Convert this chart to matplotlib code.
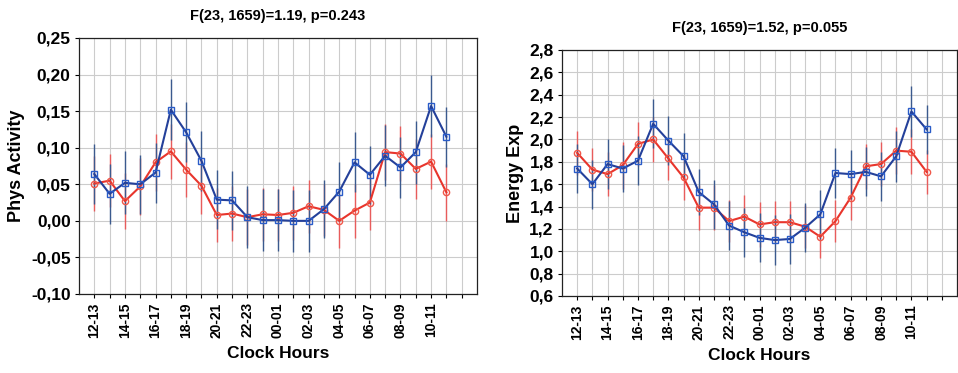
import matplotlib
matplotlib.use("Agg")
import matplotlib.pyplot as plt
import numpy as np

plt.rcParams['font.family'] = ['Liberation Sans', 'DejaVu Sans']
plt.rcParams['font.weight'] = 'bold'

hours = ['12-13', '13-14', '14-15', '15-16', '16-17', '17-18', '18-19', '19-20',
         '20-21', '21-22', '22-23', '23-00', '00-01', '01-02', '02-03', '03-04',
         '04-05', '05-06', '06-07', '07-08', '08-09', '09-10', '10-11', '11-12']

# Phys Activity
pa_blue = [0.064, 0.037, 0.052, 0.050, 0.066, 0.152, 0.121, 0.082, 0.029, 0.028, 0.005, 0.001,
           0.001, 0.000, 0.000, 0.016, 0.040, 0.080, 0.063, 0.089, 0.073, 0.094, 0.157, 0.115]
pa_blue_err = [0.041, 0.041, 0.043, 0.040, 0.041, 0.042, 0.041, 0.041, 0.040, 0.040, 0.042, 0.042,
               0.042, 0.042, 0.042, 0.040, 0.040, 0.041, 0.040, 0.042, 0.042, 0.043, 0.042, 0.041]
pa_red = [0.051, 0.055, 0.027, 0.047, 0.080, 0.095, 0.070, 0.048, 0.008, 0.010, 0.005, 0.009,
          0.008, 0.011, 0.020, 0.015, 0.000, 0.014, 0.025, 0.094, 0.092, 0.071, 0.081, 0.039]
pa_red_err = [0.037, 0.036, 0.038, 0.039, 0.039, 0.038, 0.038, 0.038, 0.037, 0.037, 0.038, 0.036,
              0.036, 0.037, 0.036, 0.036, 0.037, 0.037, 0.038, 0.038, 0.038, 0.041, 0.038, 0.039]

# Energy Exp
ee_blue = [1.74, 1.60, 1.78, 1.74, 1.81, 2.14, 1.99, 1.85, 1.53, 1.42, 1.23, 1.17,
           1.12, 1.10, 1.11, 1.21, 1.33, 1.70, 1.69, 1.71, 1.67, 1.85, 2.25, 2.09]
ee_blue_err = [0.22, 0.22, 0.22, 0.21, 0.22, 0.22, 0.22, 0.21, 0.21, 0.22, 0.22, 0.22,
               0.22, 0.22, 0.22, 0.22, 0.22, 0.22, 0.22, 0.22, 0.22, 0.23, 0.23, 0.22]
ee_red = [1.88, 1.73, 1.69, 1.77, 1.96, 2.00, 1.83, 1.66, 1.39, 1.39, 1.27, 1.31,
          1.24, 1.26, 1.26, 1.22, 1.13, 1.27, 1.48, 1.76, 1.78, 1.90, 1.89, 1.71]
ee_red_err = [0.20, 0.19, 0.20, 0.21, 0.20, 0.20, 0.19, 0.20, 0.20, 0.20, 0.19, 0.19,
              0.20, 0.19, 0.19, 0.19, 0.19, 0.19, 0.20, 0.20, 0.20, 0.21, 0.20, 0.20]

BLUE_LINE = '#24409a'
BLUE_MK = '#2a5cc8'
BLUE_ERR = '#3b5a8e'
RED_LINE = '#e8352c'
RED_MK = '#f0584a'
RED_ERR = '#e85c5c'

fig = plt.figure(figsize=(9.58, 3.73), dpi=100)
ax1 = fig.add_axes([79/958, 1-294/373, (477-79)/958, (294-38)/373])
ax2 = fig.add_axes([562/958, 1-296/373, (957-562)/958, (296-50)/373])

x = np.arange(len(hours))


def draw(ax, red, red_err, blue, blue_err, yticks, ylabel, title):
    ax.errorbar(x, red, yerr=red_err, fmt='none', ecolor=RED_ERR, elinewidth=1.0, capsize=0, zorder=2)
    ax.errorbar(x, blue, yerr=blue_err, fmt='none', ecolor=BLUE_ERR, elinewidth=1.0, capsize=0, zorder=2)
    ax.plot(x, red, color=RED_LINE, lw=1.5, marker='o', ms=4.5, mfc='none', mec=RED_MK, mew=1.0, zorder=3)
    ax.plot(x, blue, color=BLUE_LINE, lw=1.5, marker='s', ms=5, mfc='none', mec=BLUE_MK, mew=1.0, zorder=4)
    ax.set_xlim(-1, 25)
    ax.set_ylim(yticks[0], yticks[-1])
    ax.set_xticks(np.arange(0, 25))
    labels = [hours[i] if (i % 2 == 0 and i < len(hours)) else '' for i in range(25)]
    ax.set_xticklabels(labels, rotation=90, fontsize=10, fontweight='bold')
    ax.set_yticks(yticks)
    ax.set_yticklabels([f'{v:.2f}'.replace('.', ',') if yticks[1] - yticks[0] < 0.1 else f'{v:.1f}'.replace('.', ',')
                        for v in yticks], fontsize=12.5, fontweight='bold')
    ax.grid(True, color='#cccccc', lw=0.8)
    ax.set_axisbelow(True)
    ax.tick_params(axis='both', length=3, width=0.8, pad=3)
    for s in ax.spines.values():
        s.set_linewidth(0.9)
        s.set_color('#222222')
    ax.set_xlabel('Clock Hours', fontsize=12.5, fontweight='bold', labelpad=6)
    ax.set_ylabel(ylabel, fontsize=13, fontweight='bold', labelpad=4)
    ax.set_title(title, fontsize=10.5, fontweight='bold', pad=13)


draw(ax1, pa_red, pa_red_err, pa_blue, pa_blue_err,
     np.round(np.arange(-0.10, 0.2501, 0.05), 2), 'Phys Activity', 'F(23, 1659)=1.19, p=0.243')
draw(ax2, ee_red, ee_red_err, ee_blue, ee_blue_err,
     np.round(np.arange(0.6, 2.801, 0.2), 1), 'Energy Exp', 'F(23, 1659)=1.52, p=0.055')

fig.savefig('out.png', dpi=100)
